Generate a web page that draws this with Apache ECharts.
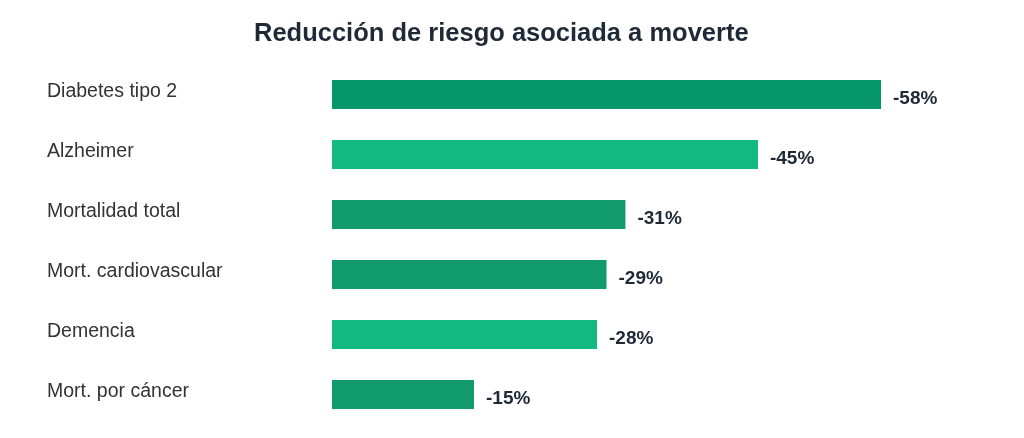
<!DOCTYPE html>
<html><head><meta charset="utf-8">
<script src="https://cdn.jsdelivr.net/npm/echarts@6/dist/echarts.min.js"></script>
<style>html,body{margin:0;padding:0;background:#fff}#c{width:1024px;height:438px}</style>
</head><body><div id="c"></div>
<script>
const categories = ["Diabetes tipo 2","Alzheimer","Mortalidad total","Mort. cardiovascular","Demencia","Mort. por cáncer"];
const values = [58,45,31,29,28,15];
const barColors = ["#05976a","#12b981","#119b6c","#119b6c","#12b981","#119b6c"];

const chart = echarts.init(document.getElementById('c'));
chart.setOption({
  backgroundColor:'#fff',
  animation:false,
  title:{text:'Reducción de riesgo asociada a moverte',left:249,top:16,
    textStyle:{fontFamily:'Liberation Sans, Arial, sans-serif',fontSize:25.5,fontWeight:'bold',color:'#1f2937'}},
  grid:{left:332,width:549,top:64.5,height:360},
  xAxis:{type:'value',min:0,max:58,show:false},
  yAxis:{type:'category',data:categories,inverse:true,
    axisLine:{show:false},axisTick:{show:false},splitLine:{show:false},
    axisLabel:{align:'left',margin:285,fontFamily:'Liberation Sans, Arial, sans-serif',fontSize:19.5,color:'#333333',
      verticalAlign:'bottom',lineHeight:6}},
  series:[{type:'bar',barWidth:29,
    data:values.map((v,i)=>({value:v,itemStyle:{color:barColors[i]}})),
    label:{show:true,position:'right',distance:12,offset:[0,4],
      formatter:p=>'-'+p.value+'%',
      fontFamily:'Liberation Sans, Arial, sans-serif',fontSize:19,fontWeight:'bold',color:'#1f2937'}}]
});
</script></body></html>
